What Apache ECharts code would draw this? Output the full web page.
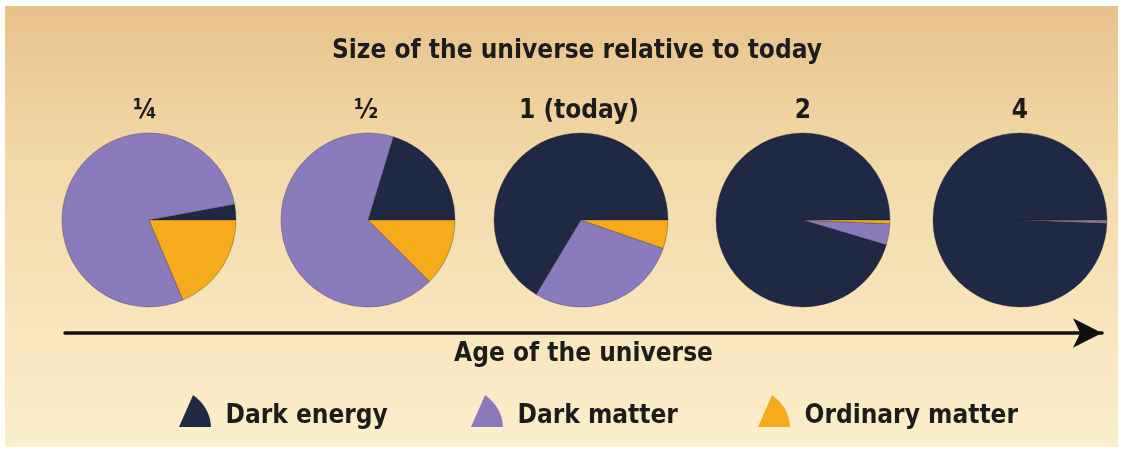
<!DOCTYPE html>
<html>
<head>
<meta charset="utf-8">
<script src="https://cdn.jsdelivr.net/npm/echarts@6/dist/echarts.min.js"></script>
<style>
  html, body { margin: 0; padding: 0; background: #ffffff; }
  #chart { width: 1127px; height: 454px; }
</style>
</head>
<body>
<div id="chart"></div>
<script>
// Share of the cosmic energy budget at each scale factor (percent)
const components = ['Dark energy', 'Dark matter', 'Ordinary matter'];
const sizeLabels = ['¼', '½', '1 (today)', '2', '4'];
const darkEnergy = [2.9, 20.3, 66.4, 95.4, 99.4];
const darkMatter = [78.5, 67.2, 28.3, 3.9, 0.45];
const ordinaryMatter = [18.6, 12.5, 5.3, 0.7, 0.15];

const colors = ['#1f2944', '#8a7bbd', '#f6ab1d'];
const centersX = [149, 368, 581, 803, 1020];
const labelX = [145, 366, 579, 803, 1020];
const centerY = 220;
const pieRadius = 87;
const FONT = '"Liberation Sans Narrow", "DejaVu Sans Condensed", "Open Sans", sans-serif';
const TEXT_SIZE = 26;
const wedgeIcon = 'path://M44,0 L0,100 L100,100 Q98,40 44,0 Z';

const pieSeries = sizeLabels.map((lab, i) => ({
  type: 'pie',
  name: lab,
  center: [centersX[i], centerY],
  radius: pieRadius,
  startAngle: 0,
  clockwise: false,
  silent: true,
  animation: false,
  label: { show: false },
  labelLine: { show: false },
  itemStyle: { borderColor: 'rgba(30,25,40,0.5)', borderWidth: 0.6 },
  data: [
    { name: components[0], value: darkEnergy[i] },
    { name: components[1], value: darkMatter[i] },
    { name: components[2], value: ordinaryMatter[i] }
  ]
}));

const textStyleBase = { fontFamily: FONT, fontSize: TEXT_SIZE, fontWeight: 'bold', color: '#1c1c1c' };

// title boxes carry a 5px padding, so anchors are offset by it
const titles = [{
  text: 'Size of the universe relative to today',
  left: 327,
  top: 33,
  textStyle: textStyleBase
}].concat(sizeLabels.map((lab, i) => ({
  text: lab,
  left: labelX[i] - 5,
  textAlign: 'center',
  top: 93,
  textStyle: textStyleBase
})));

const legendLefts = [174, 466, 753];
const legends = components.map((c, i) => ({
  data: [c],
  left: legendLefts[i],
  top: 390,
  icon: wedgeIcon,
  itemWidth: 33,
  itemHeight: 32,
  itemStyle: { borderWidth: 0 },
  selectedMode: false,
  formatter: '{t|{name}}',
  textStyle: {
    rich: {
      t: Object.assign({}, textStyleBase, { padding: [10, 0, 0, 9] })
    }
  }
}));

const chart = echarts.init(document.getElementById('chart'), null, { renderer: 'canvas' });
chart.setOption({
  animation: false,
  backgroundColor: '#ffffff',
  color: colors,
  graphic: [{
    type: 'rect',
    z: -10,
    silent: true,
    shape: { x: 5, y: 6, width: 1113, height: 441 },
    style: {
      fill: {
        type: 'linear', x: 0, y: 0, x2: 0, y2: 1,
        colorStops: [
          { offset: 0, color: '#e8c28b' },
          { offset: 0.35, color: '#f2d9a8' },
          { offset: 1, color: '#fcefcd' }
        ]
      }
    }
  }],
  title: titles,
  legend: legends,
  grid: { left: 65, right: 25, top: 300, bottom: 121 },
  xAxis: {
    type: 'value', min: 0, max: 1,
    name: 'Age of the universe',
    nameLocation: 'middle',
    nameGap: 8,
    nameTextStyle: textStyleBase,
    axisLine: {
      show: true,
      symbol: ['none', 'arrow'],
      symbolSize: [22, 29],
      lineStyle: { color: '#111111', width: 3.5 }
    },
    axisTick: { show: false },
    axisLabel: { show: false },
    splitLine: { show: false }
  },
  yAxis: { type: 'value', show: false, min: 0, max: 1 },
  series: pieSeries
});
</script>
</body>
</html>
